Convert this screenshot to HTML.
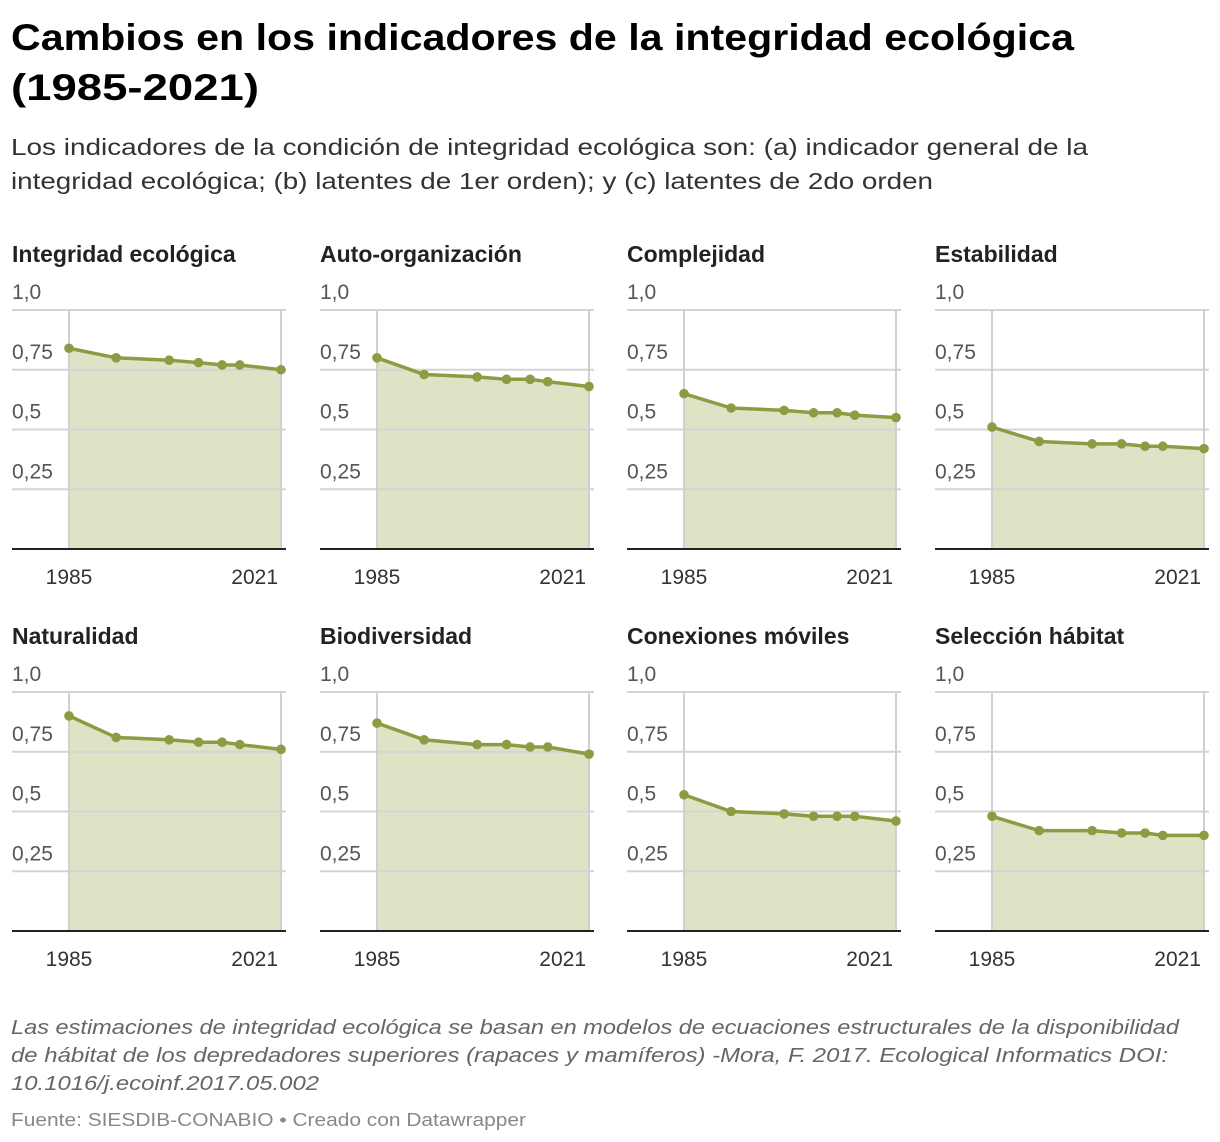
<!DOCTYPE html>
<html><head><meta charset="utf-8">
<style>
html,body{margin:0;padding:0;background:#fff;}
svg{display:block;font-family:"Liberation Sans",sans-serif;}
</style></head>
<body>
<svg id="c" width="1220" height="1142" viewBox="0 0 1220 1142">
<text x="11" y="50" font-size="37" font-weight="bold" fill="#000" textLength="1063" lengthAdjust="spacingAndGlyphs">Cambios en los indicadores de la integridad ecológica</text>
<text x="11" y="100" font-size="37" font-weight="bold" fill="#000" textLength="248" lengthAdjust="spacingAndGlyphs">(1985-2021)</text>
<text x="11" y="155" font-size="23" fill="#333" textLength="1077" lengthAdjust="spacingAndGlyphs">Los indicadores de la condición de integridad ecológica son: (a) indicador general de la</text>
<text x="11" y="189" font-size="23" fill="#333" textLength="922" lengthAdjust="spacingAndGlyphs">integridad ecológica; (b) latentes de 1er orden); y (c) latentes de 2do orden</text>
<g id="panels"></g>
<text x="11" y="1034" font-size="20" font-style="italic" fill="#666" textLength="1168" lengthAdjust="spacingAndGlyphs">Las estimaciones de integridad ecológica se basan en modelos de ecuaciones estructurales de la disponibilidad</text>
<text x="11" y="1062" font-size="20" font-style="italic" fill="#666" textLength="1157" lengthAdjust="spacingAndGlyphs">de hábitat de los depredadores superiores (rapaces y mamíferos) -Mora, F. 2017. Ecological Informatics DOI:</text>
<text x="11" y="1090" font-size="20" font-style="italic" fill="#666" textLength="308" lengthAdjust="spacingAndGlyphs">10.1016/j.ecoinf.2017.05.002</text>
<text x="11" y="1126" font-size="18" fill="#888" textLength="515" lengthAdjust="spacingAndGlyphs">Fuente: SIESDIB-CONABIO • Creado con Datawrapper</text>
</svg>
<script>
const years = [1985, 1993, 2002, 2007, 2011, 2014, 2021];
const titles = ["Integridad ecológica","Auto-organización","Complejidad","Estabilidad","Naturalidad","Biodiversidad","Conexiones móviles","Selección hábitat"];
const s1 = [0.84,0.80,0.79,0.78,0.77,0.77,0.75];
const s2 = [0.80,0.73,0.72,0.71,0.71,0.70,0.68];
const s3 = [0.65,0.59,0.58,0.57,0.57,0.56,0.55];
const s4 = [0.51,0.45,0.44,0.44,0.43,0.43,0.42];
const s5 = [0.90,0.81,0.80,0.79,0.79,0.78,0.76];
const s6 = [0.87,0.80,0.78,0.78,0.77,0.77,0.74];
const s7 = [0.57,0.50,0.49,0.48,0.48,0.48,0.46];
const s8 = [0.48,0.42,0.42,0.41,0.41,0.40,0.40];
const yTicks = [1.0,0.75,0.5,0.25];
const yTickLabels = ["1,0","0,75","0,5","0,25"];
const xTickLabels = ["1985","2021"];
const series = [s1,s2,s3,s4,s5,s6,s7,s8];

const NS="http://www.w3.org/2000/svg";
const root=document.getElementById('panels');
function mk(tag,attrs,parent){const e=document.createElementNS(NS,tag);for(const k in attrs)e.setAttribute(k,attrs[k]);parent.appendChild(e);return e;}
const colX=[12,320,627,935], rowY=[0,382];
series.forEach((vals,i)=>{
  const ox=colX[i%4], oy=rowY[Math.floor(i/4)];
  const g=mk('g',{transform:`translate(${ox},${oy})`},root);
  
  
  const x0=57,x1=269,yTop=310,yBase=549;
  const xs=y=>x0+(y-years[0])/(years[years.length-1]-years[0])*(x1-x0);
  const ys=v=>yBase-v*(yBase-yTop);
  const t=mk('text',{x:0,y:262,'font-size':23,'font-weight':'bold',fill:'#222'},g);
  t.textContent=titles[i];
  
  
  let d=`M${xs(years[0])},${yBase}`;
  years.forEach((y,j)=>d+=` L${xs(y)},${ys(vals[j])}`);
  d+=` L${xs(years[years.length-1])},${yBase} Z`;
  const a=mk('path',{d:d,fill:'#dfe3c6'},g);
  
  
  yTicks.forEach((v,j)=>{
    const l=mk('line',{x1:0,x2:274,y1:ys(v),y2:ys(v),stroke:'#d4d4d4','stroke-width':2},g);
    
    
    const tx=mk('text',{x:0,y:ys(v)-11,'font-size':21,fill:'#555'},g);
    tx.textContent=yTickLabels[j];
    
    
  });
  [years[0],years[years.length-1]].forEach((y,j)=>{
    const l=mk('line',{x1:xs(y),x2:xs(y),y1:yTop,y2:yBase,stroke:'#d0d0d0','stroke-width':2},g);
    
    
    const tx=mk('text',{x:j===0?xs(y):xs(y)-3,y:584,'font-size':21,fill:'#333','text-anchor':j===0?'middle':'end'},g);
    tx.textContent=xTickLabels[j];
    
    
  });
  const b=mk('line',{x1:0,x2:274,y1:yBase,y2:yBase,stroke:'#222','stroke-width':2},g);
  
  
  const pts=years.map((y,j)=>`${xs(y)},${ys(vals[j])}`).join(' ');
  const pl=mk('polyline',{points:pts,fill:'none',stroke:'#8c9c42','stroke-width':3.5,'stroke-linejoin':'round'},g);
  
  
  years.forEach((y,j)=>{
    const c=mk('circle',{cx:xs(y),cy:ys(vals[j]),r:4.8,fill:'#8c9c42'},g);
    
    
  });
});
</script>
</body></html>
